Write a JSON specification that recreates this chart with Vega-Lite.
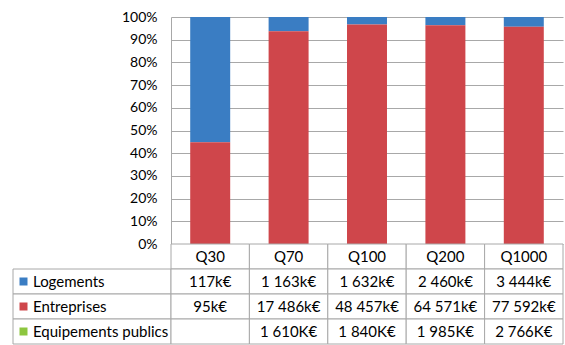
{
  "$schema": "https://vega.github.io/schema/vega-lite/v6.json",
  "padding": {"left": 12, "top": 10, "right": 3, "bottom": 0},
  "background": "white",
  "config": {
    "view": {"stroke": null},
    "font": "Lato",
    "text": {"font": "Lato"},
    "axis": {"labelFont": "Lato"}
  },
  "datasets": {
    "vals": [
      {"cat": "Q30", "serie": "Logements", "value": 117, "label": "117k€"},
      {"cat": "Q70", "serie": "Logements", "value": 1163, "label": "1 163k€"},
      {"cat": "Q100", "serie": "Logements", "value": 1632, "label": "1 632k€"},
      {"cat": "Q200", "serie": "Logements", "value": 2460, "label": "2 460k€"},
      {"cat": "Q1000", "serie": "Logements", "value": 3444, "label": "3 444k€"},
      {"cat": "Q30", "serie": "Entreprises", "value": 95, "label": "95k€"},
      {"cat": "Q70", "serie": "Entreprises", "value": 17486, "label": "17 486k€"},
      {"cat": "Q100", "serie": "Entreprises", "value": 48457, "label": "48 457k€"},
      {"cat": "Q200", "serie": "Entreprises", "value": 64571, "label": "64 571k€"},
      {"cat": "Q1000", "serie": "Entreprises", "value": 77592, "label": "77 592k€"},
      {"cat": "Q30", "serie": "Equipements publics", "value": null, "label": ""},
      {"cat": "Q70", "serie": "Equipements publics", "value": 1610, "label": "1 610K€"},
      {"cat": "Q100", "serie": "Equipements publics", "value": 1840, "label": "1 840K€"},
      {"cat": "Q200", "serie": "Equipements publics", "value": 1985, "label": "1 985K€"},
      {"cat": "Q1000", "serie": "Equipements publics", "value": 2766, "label": "2 766K€"}
    ],
    "cats": [
      {"cat": "Q30"}, {"cat": "Q70"}, {"cat": "Q100"}, {"cat": "Q200"}, {"cat": "Q1000"}
    ],
    "series": [
      {"serie": "Logements"}, {"serie": "Entreprises"}, {"serie": "Equipements publics"}
    ]
  },
  "columns": 2,
  "spacing": 0,
  "bounds": "flush",
  "resolve": {"scale": {"x": "independent", "y": "independent", "color": "independent"}},
  "concat": [
    {
      "width": 158,
      "height": 227,
      "data": {"name": "cats"},
      "mark": {"type": "text", "opacity": 0},
      "encoding": {"text": {"value": ""}}
    },
    {
      "width": 392,
      "height": 227,
      "data": {"name": "vals"},
      "transform": [{"filter": "datum.serie !== 'Equipements publics'"}],
      "mark": {"type": "bar"},
      "encoding": {
        "x": {
          "field": "cat", "type": "nominal", "sort": null,
          "scale": {"domain": ["Q30", "Q70", "Q100", "Q200", "Q1000"], "paddingInner": 0.49, "paddingOuter": 0.245},
          "axis": null
        },
        "y": {
          "field": "value", "type": "quantitative", "stack": "normalize",
          "scale": {"domain": [0, 1]},
          "axis": {
            "title": null, "format": ".0%", "values": [0, 0.1, 0.2, 0.3, 0.4, 0.5, 0.6, 0.7, 0.8, 0.9, 1],
            "grid": true, "gridColor": "#a8a8a8", "gridWidth": 1,
            "domain": true, "domainColor": "#a8a8a8", "ticks": false,
            "labelPadding": 14, "labelFontSize": 14, "labelColor": "#000000"
          }
        },
        "color": {
          "field": "serie", "type": "nominal",
          "scale": {"domain": ["Logements", "Entreprises", "Equipements publics"], "range": ["#3a7dc3", "#cf464b", "#8dc63f"]},
          "legend": null
        },
        "order": {"field": "serie", "sort": "ascending"}
      }
    },
    {
      "width": 158,
      "height": 100,
      "data": {"name": "series"},
      "layer": [
        {
          "mark": {"type": "rect", "fill": "white", "stroke": "#a8a8a8", "strokeWidth": 1},
          "encoding": {
            "y": {
              "field": "serie", "type": "nominal",
              "scale": {"domain": ["header", "Logements", "Entreprises", "Equipements publics"], "paddingInner": 0, "paddingOuter": 0},
              "axis": null
            }
          }
        },
        {
          "mark": {"type": "square", "size": 64, "opacity": 1},
          "encoding": {
            "x": {"value": 10.5},
            "y": {"field": "serie", "type": "nominal", "axis": null},
            "color": {
              "field": "serie", "type": "nominal",
              "scale": {"domain": ["Logements", "Entreprises", "Equipements publics"], "range": ["#3a7dc3", "#cf464b", "#8dc63f"]},
              "legend": null
            }
          }
        },
        {
          "mark": {"type": "text", "align": "left", "baseline": "middle", "fontSize": 15, "color": "#000000"},
          "encoding": {
            "x": {"value": 20},
            "y": {"field": "serie", "type": "nominal", "axis": null},
            "text": {"field": "serie"}
          }
        }
      ]
    },
    {
      "width": 392,
      "height": 100,
      "layer": [
        {
          "data": {"name": "cats"},
          "mark": {"type": "rect", "fill": "white", "stroke": "#a8a8a8", "strokeWidth": 1},
          "encoding": {
            "x": {
              "field": "cat", "type": "nominal", "sort": null,
              "scale": {"domain": ["Q30", "Q70", "Q100", "Q200", "Q1000"], "paddingInner": 0, "paddingOuter": 0},
              "axis": null
            },
            "y": {
              "datum": "header", "type": "nominal",
              "scale": {"domain": ["header", "Logements", "Entreprises", "Equipements publics"], "paddingInner": 0, "paddingOuter": 0},
              "axis": null
            }
          }
        },
        {
          "data": {"name": "cats"},
          "mark": {"type": "text", "align": "center", "baseline": "middle", "fontSize": 15, "color": "#000000"},
          "encoding": {
            "x": {"field": "cat", "type": "nominal", "sort": null},
            "y": {"datum": "header", "type": "nominal"},
            "text": {"field": "cat"}
          }
        },
        {
          "data": {"name": "vals"},
          "mark": {"type": "rect", "fill": "white", "stroke": "#a8a8a8", "strokeWidth": 1},
          "encoding": {
            "x": {"field": "cat", "type": "nominal", "sort": null},
            "y": {"field": "serie", "type": "nominal"}
          }
        },
        {
          "data": {"name": "vals"},
          "mark": {"type": "text", "align": "center", "baseline": "middle", "fontSize": 15, "color": "#000000"},
          "encoding": {
            "x": {"field": "cat", "type": "nominal", "sort": null},
            "y": {"field": "serie", "type": "nominal"},
            "text": {"field": "label"}
          }
        }
      ]
    }
  ]
}
